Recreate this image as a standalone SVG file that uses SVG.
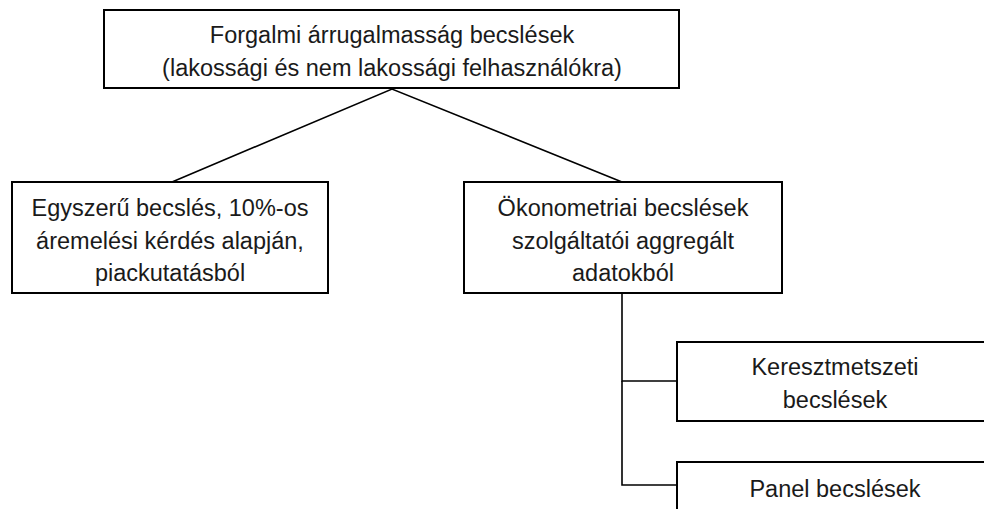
<svg xmlns="http://www.w3.org/2000/svg" width="984" height="509" viewBox="0 0 984 509">
<style>
.box{fill:#fff;stroke:#000;stroke-width:2}
.t{font-family:"Liberation Sans",Arial,sans-serif;font-size:23.5px;fill:#1a1a1a;text-anchor:middle}
.c{fill:none;stroke:#000;stroke-width:1.6}
</style>
<rect width="984" height="509" fill="#fff"/>
<g id="connectors">
<polyline class="c" points="172,182 392,89 622,182"/>
<polyline class="c" points="622,293 622,381 677,381"/>
<polyline class="c" points="622,381 622,485 677,485"/>
</g>
<g id="root">
<rect class="box" x="104" y="10" width="575" height="78"/>
<text class="t" x="392" y="43">Forgalmi árrugalmasság becslések</text>
<text class="t" x="392" y="76">(lakossági és nem lakossági felhasználókra)</text>
</g>
<g id="simple">
<rect class="box" x="12" y="182" width="316" height="111"/>
<text class="t" x="170" y="216">Egyszerű becslés, 10%-os</text>
<text class="t" x="170" y="249">áremelési kérdés alapján,</text>
<text class="t" x="170" y="281">piackutatásból</text>
</g>
<g id="econ">
<rect class="box" x="464" y="182" width="318" height="111"/>
<text class="t" x="623" y="216">Ökonometriai becslések</text>
<text class="t" x="623" y="249">szolgáltatói aggregált</text>
<text class="t" x="623" y="281">adatokból</text>
</g>
<g id="cross">
<rect class="box" x="677" y="342" width="320" height="79"/>
<text class="t" x="835" y="375">Keresztmetszeti</text>
<text class="t" x="835" y="408">becslések</text>
</g>
<g id="panel">
<rect class="box" x="677" y="462" width="320" height="60"/>
<text class="t" x="835" y="497">Panel becslések</text>
</g>
</svg>
